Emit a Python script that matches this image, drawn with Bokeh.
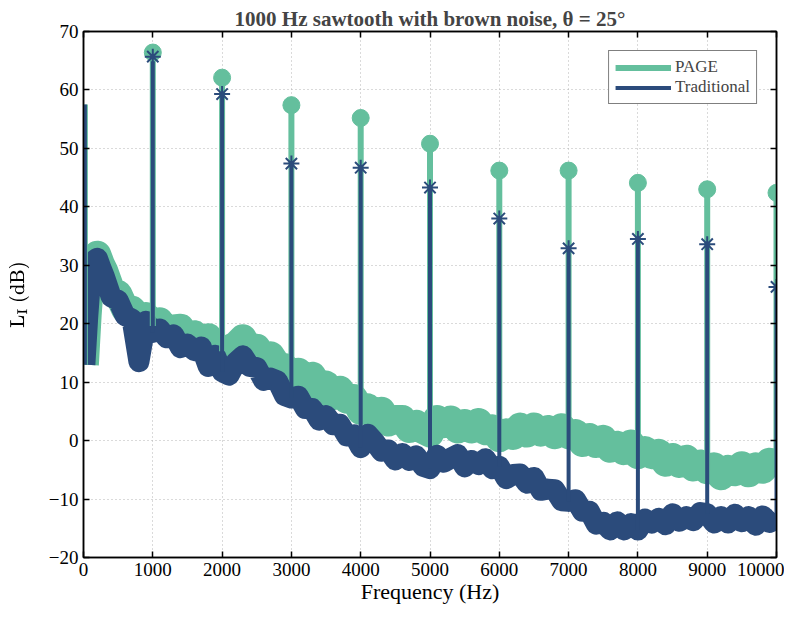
from bokeh.plotting import figure
from bokeh.models import Range1d, LinearAxis, FixedTicker, Legend, LegendItem
from bokeh.embed import file_html
from bokeh.resources import INLINE

# ---------------- data ----------------
freq = [20, 60, 100, 150, 200, 250] + list(range(300, 10001, 100))

trad_db = [13.0, 21.0, 27.5, 30.8, 31.2, 29.6,
           28.1, 24.6, 24.0, 21.4, 20.8, 13.5, 20.4,                      # 300-900
           18.5, 19.1, 17.6, 18.1, 15.9, 16.5, 15.4, 16.0, 12.7, 14.6,    # 1000-1900
           11.8, 11.2, 13.4, 14.5, 12.7, 12.5, 10.3, 10.7, 10.2, 7.7,     # 2000-2900
           7.3, 7.6, 5.5, 5.5, 3.5, 4.3, 2.7, 2.8, 0.8, 1.0,              # 3000-3900
           -1.2, 1.1, -0.2, -1.8, -1.6, -3.3, -2.2, -3.4, -2.6, -4.4,     # 4000-4900
           -4.8, -2.5, -3.7, -3.0, -2.4, -4.5, -3.4, -4.1, -3.1, -4.8,    # 5000-5900
           -4.4, -6.5, -5.8, -5.7, -7.3, -6.3, -8.5, -8.3, -8.4, -10.3,   # 6000-6900
           -10.4, -10.1, -12.1, -12.1, -14.3, -14.0, -15.3, -13.9, -15.3, -14.2,  # 7000-7900
           -15.3, -13.4, -14.1, -13.3, -14.4, -12.5, -13.8, -13.0, -13.7, -12.3,  # 8000-8900
           -12.5, -14.1, -13.0, -14.1, -12.6, -13.9, -13.0, -14.5, -12.9, -14.0,  # 9000-9900
           -13.4]                                                          # 10000

page_db = [13.0, 21.5, 28.0, 31.3, 31.8, 30.2,
           29.0, 25.7, 25.1, 22.5, 22.4, 20.9, 21.3,                      # 300-900
           19.6, 20.4, 18.7, 19.2, 19.3, 17.5, 18.2, 17.0, 17.7, 15.1,    # 1000-1900
           15.3, 15.7, 16.3, 17.5, 15.4, 15.9, 14.0, 14.6, 12.8, 12.6,    # 2000-2900
           10.6, 11.8, 10.2, 11.1, 9.2, 9.6, 7.6, 8.7, 7.0, 7.3,          # 3000-3900
           5.1, 5.7, 4.3, 5.1, 3.1, 3.7, 3.7, 2.0, 2.9, 1.8,              # 4000-4900
           1.2, 3.7, 2.8, 3.6, 1.9, 3.0, 1.9, 3.2, 1.6, 2.1,              # 5000-5900
           0.4, 1.4, 0.8, 2.4, 1.2, 2.4, 1.4, 2.0, 0.9, 2.3,              # 6000-6900
           0.9, 1.3, -0.4, 0.6, -0.6, 0.3, -1.4, -0.7, -1.8, -0.5,        # 7000-7900
           -2.5, -1.6, -2.5, -2.1, -3.8, -2.8, -4.0, -3.1, -4.6, -3.9,    # 8000-8900
           -5.1, -4.4, -6.1, -4.8, -5.4, -4.2, -5.6, -4.4, -5.0, -3.6,    # 9000-9900
           -4.7]                                                          # 10000

harmonics = [20, 1000, 2000, 3000, 4000, 5000, 6000, 7000, 8000, 9000, 10000]
page_peaks = [57.5, 66.4, 62.1, 57.4, 55.2, 50.8, 46.2, 46.2, 44.1, 43.0, 42.4]
trad_peaks = [57.5, 65.7, 59.3, 47.4, 46.7, 43.3, 38.0, 32.9, 34.5, 33.6, 26.3]

x_ticks = list(range(0, 10001, 1000))
y_ticks = list(range(-20, 71, 10))

assert len(freq) == len(trad_db) == len(page_db)

TEAL = "#64BF9D"
DARK = "#2B4B7B"
SERIF = "Liberation Serif"

def base_at(series, h):
    return series[freq.index(h)]

page_base = [base_at(page_db, h) for h in harmonics]
trad_base = [base_at(trad_db, h) for h in harmonics]

# ---------------- figure ----------------
p = figure(width=784, height=606, x_range=Range1d(0, 10000), y_range=Range1d(-20, 70),
           output_backend="svg", toolbar_location=None,
           min_border_left=83, min_border_right=8, min_border_top=31, min_border_bottom=48)
p.background_fill_color = "white"
p.border_fill_color = "white"
p.outline_line_color = "black"
p.outline_line_width = 1.5

p.title.text = "1000 Hz sawtooth with brown noise, θ = 25°"
p.title.align = "center"
p.title.text_font = SERIF
p.title.text_font_size = "21px"
p.title.text_font_style = "bold"
p.title.standoff = 2

# noise floors
p.line(freq, page_db, line_color=TEAL, line_width=28, line_join="round")
p.line(freq, trad_db, line_color=DARK, line_width=21, line_join="round")

# spikes
r_page = p.segment(x0=harmonics, y0=page_base, x1=harmonics, y1=page_peaks,
                   line_color=TEAL, line_width=6)
r_trad = p.segment(x0=harmonics, y0=trad_base, x1=harmonics, y1=trad_peaks,
                   line_color=DARK, line_width=4)

# peak markers
p.scatter(harmonics[1:], page_peaks[1:], marker="circle", size=17,
          fill_color=TEAL, line_color=TEAL)
p.scatter(harmonics[1:], trad_peaks[1:], marker="asterisk", size=16,
          line_color=DARK, line_width=2)

# axes
for ax in (p.xaxis[0], p.yaxis[0]):
    ax.major_tick_in = 6
    ax.major_tick_out = 0
    ax.minor_tick_in = 0
    ax.minor_tick_out = 0
    ax.axis_line_width = 1.5
    ax.major_tick_line_width = 1.5
    ax.major_label_text_font = SERIF
    ax.major_label_text_font_size = "19px"
    ax.major_label_text_color = "black"
    ax.axis_label_text_font = SERIF
    ax.axis_label_text_font_style = "normal"
    ax.axis_label_text_color = "black"

p.xaxis.ticker = FixedTicker(ticks=x_ticks)
p.yaxis.ticker = FixedTicker(ticks=y_ticks)
p.xaxis.axis_label = "Frequency (Hz)"
p.xaxis.axis_label_text_font_size = "22px"
p.xaxis.axis_label_standoff = 0
p.xaxis.major_label_standoff = 5
p.yaxis.axis_label = r"$$\mathrm{L_I\ (dB)}$$"
p.yaxis.axis_label_text_font_size = "19px"
p.yaxis.axis_label_standoff = 16
p.yaxis.major_label_standoff = 5

def mirror_axis(ticks):
    return LinearAxis(ticker=FixedTicker(ticks=ticks),
                      major_label_text_font_size="0px", major_label_text_color=None,
                      major_tick_in=6, major_tick_out=0, minor_tick_in=0, minor_tick_out=0,
                      major_label_standoff=0, axis_line_width=1.5, major_tick_line_width=1.5)

p.add_layout(mirror_axis(x_ticks), "above")
p.add_layout(mirror_axis(y_ticks), "right")

p.grid.grid_line_color = "#b5b5b5"
p.grid.grid_line_dash = "1 3"
p.grid.grid_line_width = 1

legend = Legend(items=[LegendItem(label="PAGE", renderers=[r_page]),
                       LegendItem(label="Traditional", renderers=[r_trad])],
                location="top_right")
legend.margin = 19
legend.padding = 6
legend.spacing = 0
legend.glyph_width = 56
legend.glyph_height = 19
legend.label_text_font = SERIF
legend.label_text_font_size = "17px"
legend.label_standoff = 4
legend.label_height = 19
legend.border_line_color = "black"
legend.border_line_width = 1.5
legend.background_fill_alpha = 1
p.add_layout(legend)

open("out.html", "w").write(file_html(p, INLINE))
